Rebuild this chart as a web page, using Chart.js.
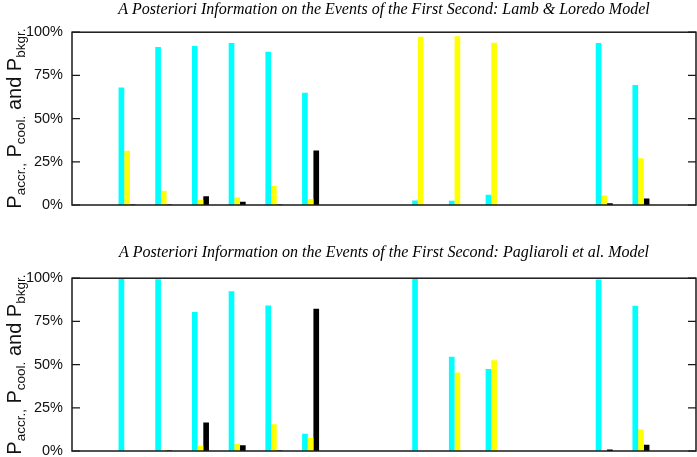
<!DOCTYPE html>
<html>
<head>
<meta charset="utf-8">
<script src="https://cdn.jsdelivr.net/npm/chart.js@4.4.0/dist/chart.umd.min.js"></script>
<style>
  body { margin: 0; background: #fff; }
  canvas { position: absolute; left: 0; }
</style>
</head>
<body>
<canvas id="lamb" width="697" height="228" style="top:0;"></canvas>
<canvas id="pagl" width="697" height="229" style="top:228px;"></canvas>
<script>
// slot positions along the x axis (empty slots separate the detectors)
const slots = ['0', '1', '2', '3', '4', '5', '6', '7', '8', '9', '10', '11', '12', '13', '14', '15', '16'];
const yTicks = [0, 25, 50, 75, 100];

// Lamb & Loredo model
const accrLL = [null, 68, 91.5, 92, 93.8, 88.7, 65, null, null, 2.6, 2.4, 5.9, null, null, 93.7, 69.5, null];
const coolLL = [null, 31.4, 8.2, 2.9, 4.3, 11, 3.5, null, null, 97.3, 97.6, 93.9, null, null, 5.5, 27, null];
const bkgLL = [null, 0.3, 0.3, 5.1, 1.9, 0.3, 31.5, null, null, 0, 0, 0, null, null, 1, 3.8, null];

// Pagliaroli et al. model
const accrP = [null, 100, 99.4, 80.5, 92.5, 84.2, 10, null, null, 100, 54.5, 47.5, null, null, 99.2, 84, null];
const coolP = [null, 0, 0.4, 3, 4.2, 15.5, 7.7, null, null, 0, 45.5, 52.5, null, null, 0, 12.4, null];
const bkgP = [null, 0, 0.3, 16.5, 3.3, 0.3, 82.3, null, null, 0, 0, 0, null, null, 0.8, 3.6, null];

const framePlugin = {
  id: 'frame',
  afterDatasetsDraw(chart) {
    const { ctx, chartArea: a, scales: { y } } = chart;
    ctx.save();
    ctx.strokeStyle = '#1a1a1a';
    ctx.lineWidth = 1.5;
    ctx.strokeRect(a.left, a.top, a.right - a.left, a.bottom - a.top);
    ctx.lineWidth = 1.2;
    y.ticks.forEach(t => {
      const py = y.getPixelForValue(t.value);
      ctx.beginPath();
      ctx.moveTo(a.left, py); ctx.lineTo(a.left + 8, py);
      ctx.moveTo(a.right, py); ctx.lineTo(a.right - 8, py);
      ctx.stroke();
    });

    // y label with subscripts
    const parts = [['P', 0], ['accr.,', 1], [' P', 0], ['cool.', 1], [' and P', 0], ['bkgr.', 1]];
    const big = '20px "Liberation Sans", Arial, sans-serif';
    const small = '13.5px "Liberation Sans", Arial, sans-serif';
    let total = 0;
    parts.forEach(p => { ctx.font = p[1] ? small : big; total += ctx.measureText(p[0]).width; });
    ctx.translate(21, (a.top + a.bottom) / 2);
    ctx.rotate(-Math.PI / 2);
    ctx.fillStyle = '#111';
    ctx.textBaseline = 'alphabetic';
    let x = -total / 2;
    parts.forEach(p => {
      ctx.font = p[1] ? small : big;
      ctx.fillText(p[0], x, p[1] ? 4 : 0);
      x += ctx.measureText(p[0]).width;
    });
    ctx.restore();
  }
};

function makeChart(id, title, accr, cool, bkg, titlePad, bottomPad) {
  const ctx = document.getElementById(id).getContext('2d');
  return new Chart(ctx, {
    type: 'bar',
    data: {
      labels: slots,
      datasets: [
        { label: 'P accr.', data: accr, backgroundColor: '#00ffff' },
        { label: 'P cool.', data: cool, backgroundColor: '#ffff00' },
        { label: 'P bkgr.', data: bkg, backgroundColor: '#000000' },
      ],
    },
    options: {
      responsive: false,
      animation: false,
      events: [],
      devicePixelRatio: 1,
      categoryPercentage: 0.463,
      barPercentage: 1.0,
      layout: { padding: { left: 0, right: 1, top: 0, bottom: bottomPad } },
      plugins: {
        legend: { display: false },
        tooltip: { enabled: false },
        title: {
          display: true,
          fullSize: false,
          text: title,
          color: '#000',
          font: { family: '"Liberation Serif", "Times New Roman", serif', style: 'italic', weight: 'normal', size: 16, lineHeight: 1.2 },
          padding: titlePad,
        },
      },
      scales: {
        x: { display: false, offset: true },
        y: {
          min: 0,
          max: 100,
          afterBuildTicks: s => { s.ticks = yTicks.map(v => ({ value: v })); },
          afterFit: s => { s.width = 72; s.paddingTop = 0; s.paddingBottom = 0; },
          grid: { display: false, drawTicks: false },
          border: { display: false },
          ticks: {
            padding: 9,
            color: '#111',
            font: { family: '"Liberation Sans", Arial, sans-serif', size: 14.5 },
            callback: v => v + '%',
          },
        },
      },
    },
    plugins: [framePlugin],
  });
}

makeChart('lamb', 'A Posteriori Information on the Events of the First Second: Lamb & Loredo Model',
  accrLL, coolLL, bkgLL, { top: 0, bottom: 13 }, 23);
makeChart('pagl', 'A Posteriori Information on the Events of the First Second: Pagliaroli et al. Model',
  accrP, coolP, bkgP, { top: 15, bottom: 16 }, 6);
</script>
</body>
</html>
